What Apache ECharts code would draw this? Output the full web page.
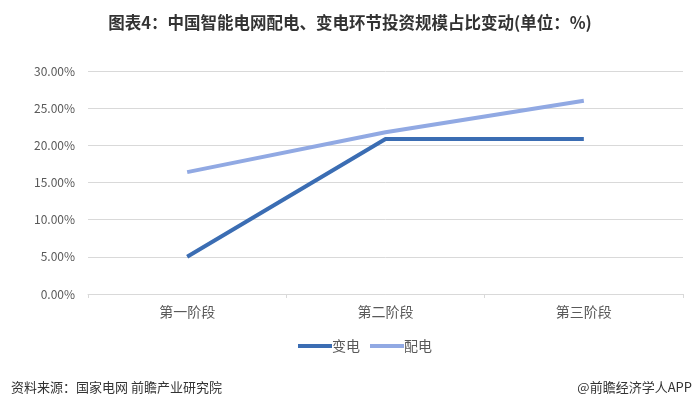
<!DOCTYPE html>
<html>
<head>
<meta charset="utf-8">
<script src="https://cdn.jsdelivr.net/npm/echarts@6/dist/echarts.min.js"></script>
<style>
html,body{margin:0;padding:0;background:#fff;}
#c{width:700px;height:406px;}
</style>
</head>
<body>
<div id="c"></div>
<script>
const categories = ['第一阶段', '第二阶段', '第三阶段'];
const substation = [5.0, 20.85, 20.85];   // 变电
const distribution = [16.4, 21.75, 26.0]; // 配电
const yTicks = [0, 5, 10, 15, 20, 25, 30];

const chart = echarts.init(document.getElementById('c'));
chart.setOption({
  backgroundColor: '#ffffff',
  animation: false,
  textStyle: { fontFamily: '"Noto Sans CJK SC", "Noto Sans", sans-serif' },
  title: [{
    text: '图表4：中国智能电网配电、变电环节投资规模占比变动(单位：%)',
    left: 'center', top: 9,
    textStyle: { fontSize: 16.5, fontWeight: 'bold', color: '#333333', fontFamily: '"Noto Sans CJK SC", sans-serif' }
  }, {
    text: '资料来源：国家电网 前瞻产业研究院',
    left: 6, top: 376,
    textStyle: { fontSize: 13, fontWeight: 'normal', color: '#333333' }
  }, {
    text: '@前瞻经济学人APP',
    right: 3, top: 376,
    textStyle: { fontSize: 13, fontWeight: 'normal', color: '#333333' }
  }],
  legend: {
    data: ['变电', '配电'],
    left: 293, top: 334,
    icon: 'rect', itemWidth: 34, itemHeight: 4, itemGap: 10,
    textStyle: { fontSize: 14, color: '#595959', padding: [0, 0, 0, -5] }
  },
  grid: { left: 88, right: 17, top: 71, bottom: 112, containLabel: false },
  xAxis: {
    type: 'category', data: categories, boundaryGap: true,
    axisLine: { lineStyle: { color: '#d9d9d9' } },
    axisTick: { show: true, length: 4, lineStyle: { color: '#d9d9d9' } },
    axisLabel: { fontSize: 14, color: '#595959', margin: 11 }
  },
  yAxis: {
    type: 'value', min: yTicks[0], max: yTicks[yTicks.length - 1], interval: 5,
    axisLine: { show: false }, axisTick: { show: false },
    splitLine: { lineStyle: { color: '#d9d9d9' } },
    axisLabel: { fontSize: 12, color: '#595959', margin: 13, formatter: v => v.toFixed(2) + '%' }
  },
  series: [{
    name: '变电', type: 'line', data: substation,
    symbol: 'none', lineStyle: { width: 4, color: '#3b6db3' }, itemStyle: { color: '#3b6db3' }
  }, {
    name: '配电', type: 'line', data: distribution,
    symbol: 'none', lineStyle: { width: 4, color: '#91a9e3' }, itemStyle: { color: '#91a9e3' }
  }]
});
</script>
</body>
</html>
